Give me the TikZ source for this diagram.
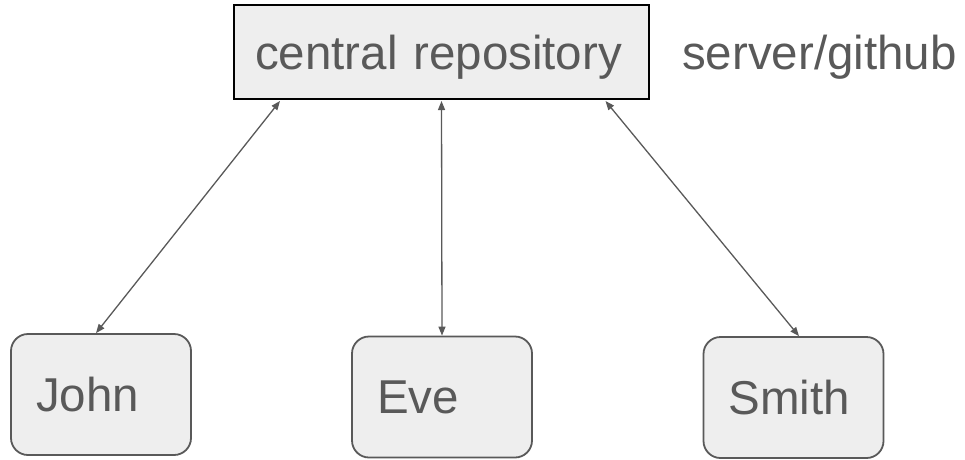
\documentclass[tikz,border=0pt]{standalone}
\usepackage{fontspec}
\setmainfont{Liberation Sans}
\usetikzlibrary{arrows.meta}
\definecolor{txtgray}{HTML}{595959}
\definecolor{boxfill}{HTML}{EEEEEE}
\begin{document}
\begin{tikzpicture}[x=1pt,y=-1pt,
  bigfont/.style={font=\fontsize{47.5}{52}\selectfont, text=txtgray},
  repobox/.style={bigfont, draw=black, line width=2pt, fill=boxfill,
    text width=373pt, align=left, inner xsep=21pt, inner ysep=0pt,
    text height=34pt, text depth=0pt, minimum height=94pt},
  person/.style={bigfont, draw=txtgray, line width=1.8pt, fill=boxfill,
    rounded corners=17pt, text width=130pt, align=left, inner xsep=25pt,
    minimum height=121pt},
  link/.style={draw=txtgray, line width=1.3pt,
    {Triangle[length=9pt,width=7pt]}-{Triangle[length=9pt,width=7pt]}}]
\useasboundingbox (0,0) rectangle (965,459);
\node[repobox] (repo) at (441.5,52) {central repository};
\node[bigfont, anchor=base west, inner sep=0pt] (server) at (682,69) {server/github};
\node[person] (john) at (101,394.5) {John};
\node[person] (eve) at (442,397) {Eve};
\node[person] (smith) at (793.5,397.5) {Smith};
\draw[link] ([xshift=47pt,yshift=-1pt]repo.south west) -- ([xshift=-5pt]john.north);
\draw[link] ([yshift=-1pt]repo.south) -- (eve.north);
\draw[link] ([xshift=-44.5pt,yshift=-1pt]repo.south east) -- ([xshift=5.5pt]smith.north);
\end{tikzpicture}
\end{document}
